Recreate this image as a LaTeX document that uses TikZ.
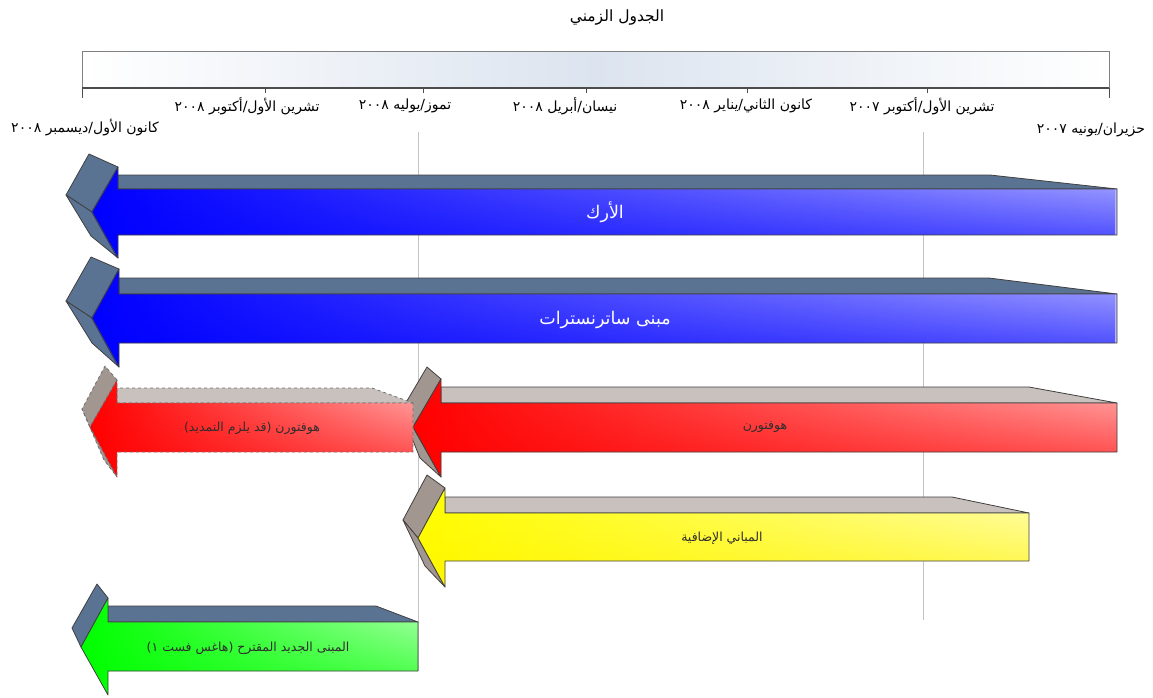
\documentclass[tikz,border=0pt]{standalone}
\usepackage{fontspec}
\setmainfont{DejaVu Sans}
\newfontfamily\arabicfont[Script=Arabic]{DejaVu Sans}
\TeXXeTstate=1
\usetikzlibrary{fadings}
\definecolor{slate}{HTML}{5B7393}
\definecolor{taupe}{HTML}{A29690}
\definecolor{beige}{HTML}{C9C1BD}
\definecolor{outl}{HTML}{404040}
\definecolor{dashgray}{HTML}{707070}
\definecolor{barblue}{HTML}{DCE4EF}
\definecolor{gridgray}{HTML}{C4C4C4}
\definecolor{bluelt}{HTML}{B4B4FF}
\definecolor{redlt}{HTML}{FFB4B4}
\definecolor{yellowlt}{HTML}{FFFFB8}
\definecolor{greenlt}{HTML}{B4FFB4}
\definecolor{labeldark}{HTML}{2E2E2E}
\tikzset{
  edgesolid/.style={draw=outl, line width=0.8pt, line join=round},
  edgedash/.style={draw=dashgray, dashed, line width=0.8pt, line join=round},
  frontface/.style 2 args={left color=#1, right color=#2,
     postaction={fill=#1, path fading=north, fill opacity=0.72}},
  tllabel/.style={font=\arabicfont\fontsize{14}{16}\selectfont, text=black, inner sep=0pt},
  whitelabel/.style={font=\arabicfont\fontsize{17.5}{20}\selectfont, text=white, inner sep=0pt},
  darklabel/.style={font=\arabicfont\fontsize{12.5}{14}\selectfont, text=labeldark, inner sep=0pt},
}
\begin{document}
\begin{tikzpicture}[x=1pt,y=-1pt]
\useasboundingbox (0,0) rectangle (1153,697);

% title
\node[font=\arabicfont\fontsize{15.5}{18}\selectfont, inner sep=0pt] (title) at (617,17) {\beginR الجدول الزمني\endR};

% timeline bar
\shade[left color=white, right color=white, middle color=barblue] (82,51) rectangle (1109,88);
\draw[draw=gray, line width=0.6pt] (82,51) rectangle (1109,88);
\draw[draw=black!70, line width=1.2pt] (82,88) -- (1109,88);
\draw[draw=black!70, line width=0.8pt] (82,88) -- (82,98);
\draw[draw=black!70, line width=0.8pt] (1109,88) -- (1109,98);
\foreach \tx in {265,423,586,747,927}{
  \draw[draw=black!70, line width=0.8pt] (\tx,88) -- (\tx,93);
}

% timeline labels
\node[tllabel] (m1) at (247,106) {\beginR تشرين الأول/أكتوبر ٢٠٠٨\endR};
\node[tllabel] (m2) at (405,106) {\beginR تموز/يوليه ٢٠٠٨\endR};
\node[tllabel] (m3) at (565,106) {\beginR نيسان/أبريل ٢٠٠٨\endR};
\node[tllabel] (m4) at (746,106) {\beginR كانون الثاني/يناير ٢٠٠٨\endR};
\node[tllabel] (m5) at (922,106) {\beginR تشرين الأول/أكتوبر ٢٠٠٧\endR};
\node[tllabel] (m0) at (85,128) {\beginR كانون الأول/ديسمبر ٢٠٠٨\endR};
\node[tllabel] (m6) at (1091,130) {\beginR حزيران/يونيه ٢٠٠٧\endR};

% grid lines
\draw[draw=gridgray, line width=0.7pt] (418,132) -- (418,671);
\draw[draw=gridgray, line width=0.7pt] (923,132) -- (923,620);

% ---- Arrow 1 (blue)
\path[edgesolid, fill=slate] (118,189) -- (118,175) -- (990,175) -- (1117,189) -- cycle;
\path[edgesolid, fill=slate] (118,167) -- (89,154) -- (66,195) -- (92,212) -- cycle;
\path[edgesolid, fill=slate] (92,212) -- (66,195) -- (91,236) -- (118,258) -- cycle;
\path[frontface={blue}{bluelt}] (1117,189) -- (118,189) -- (118,167) -- (92,212) -- (118,258) -- (118,235) -- (1117,235) -- cycle;
\draw[edgesolid] (1117,189) -- (118,189) -- (118,167) -- (92,212) -- (118,258) -- (118,235) -- (1117,235) -- cycle;
\node[whitelabel] (a1) at (605,212) {\beginR الأرك\endR};

% ---- Arrow 2 (blue)
\path[edgesolid, fill=slate] (119,294) -- (119,278) -- (989,278) -- (1117,294) -- cycle;
\path[edgesolid, fill=slate] (119,269) -- (91,257) -- (66,301) -- (92,318) -- cycle;
\path[edgesolid, fill=slate] (92,318) -- (66,301) -- (92,343) -- (119,367) -- cycle;
\path[frontface={blue}{bluelt}] (1117,294) -- (119,294) -- (119,269) -- (92,318) -- (119,367) -- (119,343) -- (1117,343) -- cycle;
\draw[edgesolid] (1117,294) -- (119,294) -- (119,269) -- (92,318) -- (119,367) -- (119,343) -- (1117,343) -- cycle;
\node[whitelabel] (a2) at (605,320) {\beginR مبنى ساترنسترات\endR};

% ---- Arrow 3 (red, solid)
\path[edgesolid, fill=beige] (441,403) -- (441,387) -- (1029,387) -- (1117,403) -- cycle;
\path[edgesolid, fill=taupe] (441,379) -- (427,367) -- (401,411) -- (413,427) -- cycle;
\path[edgesolid, fill=taupe] (413,427) -- (401,411) -- (420,458) -- (441,477) -- cycle;
\path[frontface={red}{redlt}] (1117,403) -- (441,403) -- (441,379) -- (413,427) -- (441,477) -- (441,452) -- (1117,452) -- cycle;
\draw[edgesolid] (1117,403) -- (441,403) -- (441,379) -- (413,427) -- (441,477) -- (441,452) -- (1117,452) -- cycle;
\node[darklabel] (a3) at (765,427) {\beginR هوفتورن\endR};

% ---- Arrow 4 (red, dashed)
\path[edgedash, fill=beige] (117,403) -- (117,388) -- (372,388) -- (413,403) -- cycle;
\path[edgedash, fill=taupe] (117,380) -- (105,366) -- (82,409) -- (90,427) -- cycle;
\path[edgedash, fill=taupe] (90,427) -- (82,409) -- (104,460) -- (117,477) -- cycle;
\path[frontface={red}{redlt}] (413,403) -- (117,403) -- (117,380) -- (90,427) -- (117,477) -- (117,452) -- (413,452) -- cycle;
\draw[edgedash] (413,403) -- (117,403) -- (117,380) -- (90,427) -- (117,477) -- (117,452) -- (413,452) -- cycle;
\node[darklabel] (a4) at (252,428) {\beginR هوفتورن (قد يلزم التمديد)\endR};

% ---- Arrow 5 (yellow)
\path[edgesolid, fill=beige] (445,513) -- (445,497) -- (952,497) -- (1029,513) -- cycle;
\path[edgesolid, fill=taupe] (445,488) -- (427,475) -- (403,520) -- (418,538) -- cycle;
\path[edgesolid, fill=taupe] (418,538) -- (403,520) -- (425,566) -- (445,587) -- cycle;
\path[frontface={yellow}{yellowlt}] (1029,513) -- (445,513) -- (445,488) -- (418,538) -- (445,587) -- (445,561) -- (1029,561) -- cycle;
\draw[edgesolid] (1029,513) -- (445,513) -- (445,488) -- (418,538) -- (445,587) -- (445,561) -- (1029,561) -- cycle;
\node[darklabel] (a5) at (722,538) {\beginR المباني الإضافية\endR};

% ---- Arrow 6 (green)
\path[edgesolid, fill=slate] (108,622) -- (108,606) -- (376,606) -- (418,622) -- cycle;
\path[edgesolid, fill=slate] (108,598) -- (97,584) -- (72,628) -- (81,647) -- cycle;
\path[frontface={green}{greenlt}] (418,622) -- (108,622) -- (108,598) -- (81,647) -- (108,695) -- (108,671) -- (418,671) -- cycle;
\draw[edgesolid] (418,622) -- (108,622) -- (108,598) -- (81,647) -- (108,695) -- (108,671) -- (418,671) -- cycle;
\node[darklabel] (a6) at (248,648) {\beginR المبنى الجديد المقترح (هاغس فست ١)\endR};

\end{tikzpicture}
\end{document}
